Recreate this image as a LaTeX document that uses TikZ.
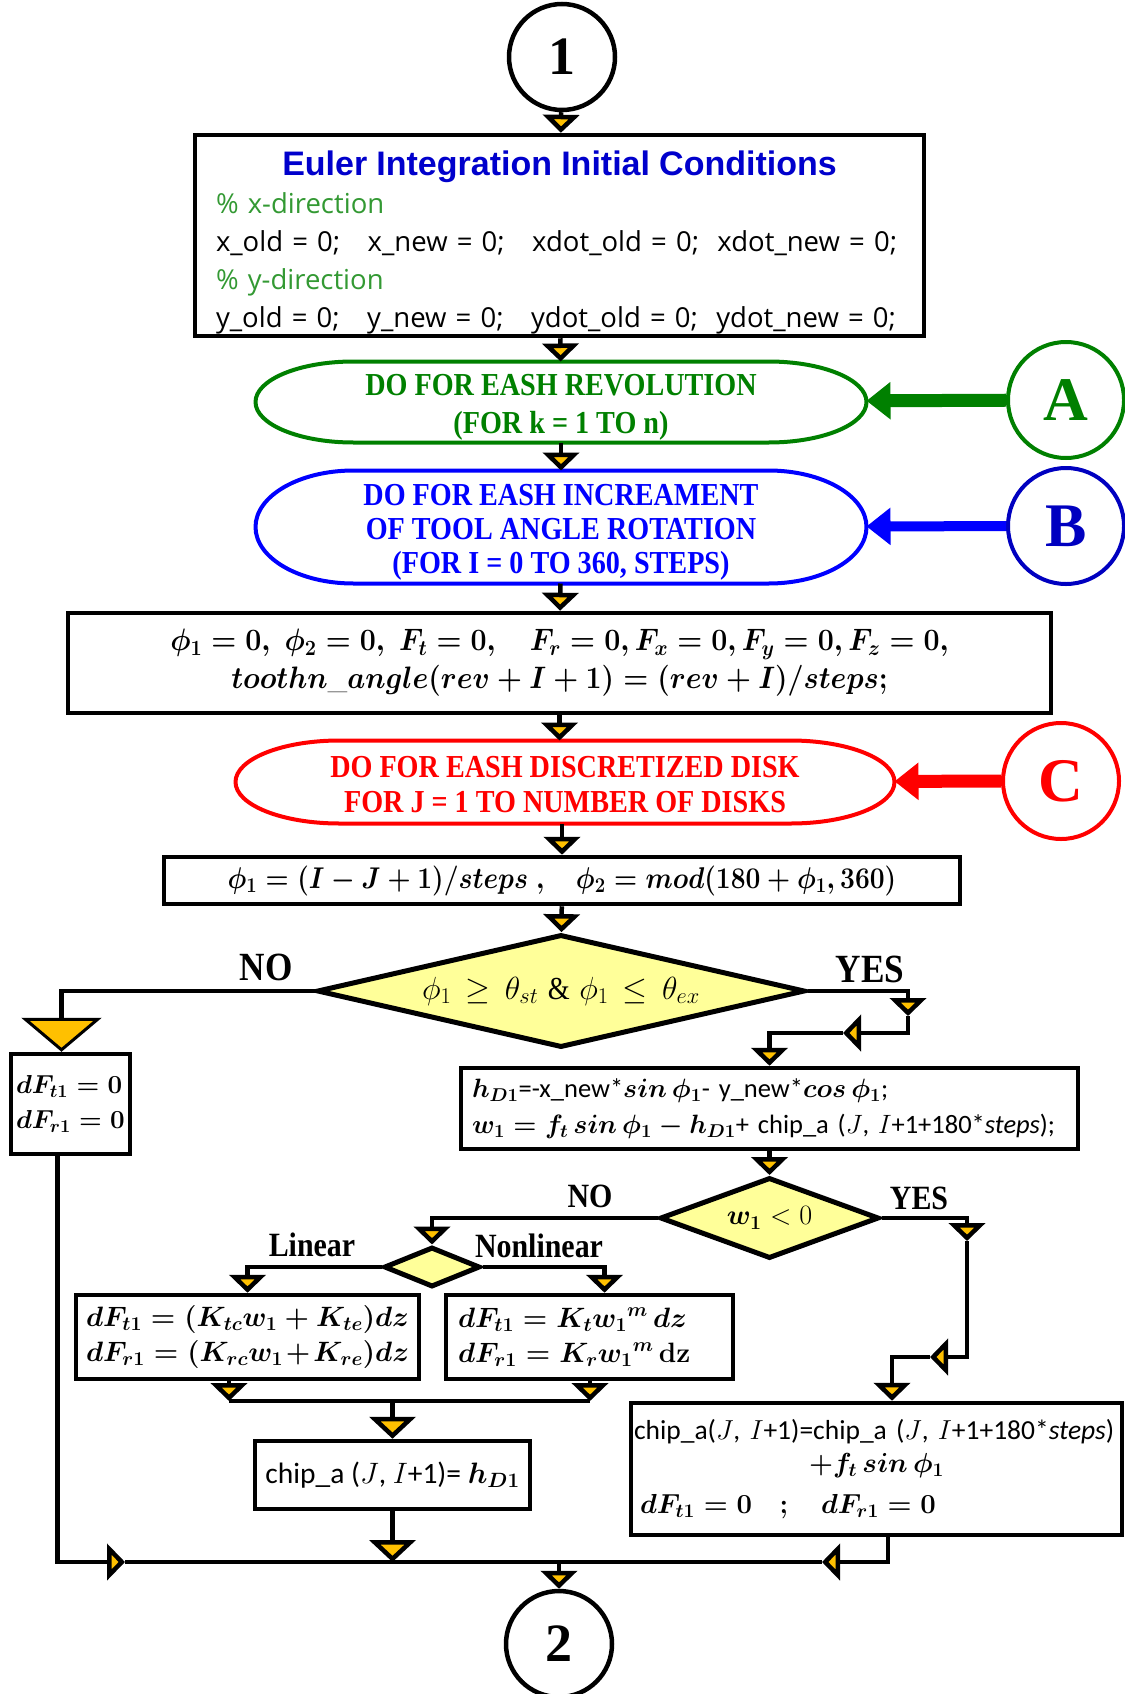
\RequirePackage{fix-cm}
\documentclass[tikz,border=0pt]{standalone}
\usepackage{fontspec}
\usepackage{amsmath}
\usepackage{graphicx}
\usetikzlibrary{shapes.geometric, arrows.meta, positioning}

\newfontfamily\titlefont{Liberation Sans}
\newfontfamily\codefont{Open Sans}
\newfontfamily\loopfont[FakeStretch=0.88]{Liberation Serif}
\newfontfamily\markfont{Liberation Serif}
\newfontfamily\plainfont{Carlito}

\definecolor{tipyellow}{HTML}{FFC000}
\definecolor{diayellow}{HTML}{FFFF99}
\definecolor{loopgreen}{HTML}{008000}
\definecolor{commentgreen}{HTML}{339933}
\definecolor{titleblue}{HTML}{0000CC}
\definecolor{loopblue}{HTML}{0000FF}
\definecolor{markblue}{HTML}{0000C0}
\definecolor{loopred}{HTML}{FF0000}

\newcommand{\bmath}[1]{{\boldmath$#1$}}
\newcommand{\termoutline}[4]{\draw [#2, line width=4pt, line join=round] ([xshift=#3]#1.north west) -- ([xshift=-#3]#1.north east) arc[start angle=90, end angle=-90, x radius=#3, y radius=#4] -- ([xshift=#3]#1.south west) arc[start angle=270, end angle=90, x radius=#3, y radius=#4] -- cycle;}

\begin{document}
\begin{tikzpicture}[x=1pt, y=-1pt, line width=4.5pt]
        \tikzstyle{process} = [rectangle, draw, line width=4.5pt, inner sep=0pt, fill=white]
        \tikzstyle{loopbox} = [rectangle, inner sep=0pt, outer sep=0pt, align=center, font=\fontsize{32}{38}\selectfont\loopfont\bfseries]
        \tikzstyle{decision} = [diamond, draw, line width=5pt, fill=diayellow, inner sep=0pt]
        \tikzstyle{onpage} = [circle, draw, line width=4.5pt, inner sep=0pt, minimum size=106pt, font=\fontsize{54}{54}\selectfont\markfont\bfseries]
        \tikzstyle{offpage} = [circle, draw, line width=4pt, inner sep=0pt, minimum size=116pt, font=\fontsize{62}{62}\selectfont\markfont\bfseries]
        \tikzstyle{answer} = [inner sep=0pt, font=\fontsize{34}{34}\selectfont\loopfont\bfseries]
        \tikzstyle{arr} = [-{Triangle[width=36pt,length=18pt,fill=tipyellow]}]
        \tikzstyle{bigarr} = [-{Triangle[width=46pt,length=22pt,fill=tipyellow]}]
        \tikzstyle{hugearr} = [-{Triangle[width=80pt,length=34pt,fill=tipyellow,line width=3pt]}]
        \tikzstyle{sidearr} = [line width=13pt, -{Triangle[width=36pt,length=24pt]}]

        \useasboundingbox (0,0) rectangle (1124,1694);

        \node (start) [onpage] at (562,57) {1};

        \node (init) [process, minimum width=729pt, minimum height=201pt, text width=687pt, align=left, font=\fontsize{27.5}{38}\selectfont\codefont] at (559.5,235.5) {
            {\centering\titlefont\bfseries\fontsize{34}{38}\selectfont\color{titleblue}\rule{0pt}{38pt}Euler Integration Initial Conditions\par}
            {\color{commentgreen}\% x-direction}\\
            x\_old = 0;~~~x\_new = 0;~~~xdot\_old = 0;~~xdot\_new = 0;\\
            {\color{commentgreen}\% y-direction}\\
            y\_old = 0;~~~y\_new = 0;~~~ydot\_old = 0;~~ydot\_new = 0;
        };

        \node (revol) [loopbox, text=loopgreen, minimum width=611pt, minimum height=81pt] at (561,402) {
            \rule{0pt}{32pt}DO FOR EASH REVOLUTION\\
            (FOR k = 1 TO n)
        };
        \termoutline{revol}{loopgreen}{98pt}{40.5pt}
        \node (incr) [loopbox, text=loopblue, minimum width=611pt, minimum height=113pt, font=\fontsize{32}{34}\selectfont\loopfont\bfseries] at (561,527) {
            \rule{0pt}{32pt}DO FOR EASH INCREAMENT\\
            OF TOOL ANGLE ROTATION\\
            (FOR I = 0 TO 360, STEPS)
        };
        \termoutline{incr}{loopblue}{98pt}{56.5pt}

        \node (reset) [process, minimum width=983pt, minimum height=100pt, align=center, font=\fontsize{31}{38}\selectfont] at (559.5,663) {
            \scalebox{0.92}[1]{\bmath{\phi_1 = 0,\ \phi_2 = 0,\ F_t = 0,\quad F_r = 0, F_x = 0, F_y = 0, F_z = 0,}}\\
            \scalebox{0.92}[1]{\bmath{toothn\_angle(rev + I + 1) = (rev + I)/steps;}}
        };

        \node (disk) [loopbox, text=loopred, minimum width=659pt, minimum height=83pt, font=\fontsize{32}{35}\selectfont\loopfont\bfseries] at (565,782) {
            \rule{0pt}{26pt}DO FOR EASH DISCRETIZED DISK\\
            FOR J = 1 TO NUMBER OF DISKS
        };
        \termoutline{disk}{loopred}{104pt}{41.5pt}

        \node (markA) [offpage, draw=loopgreen, text=loopgreen] at (1066,400) {A};
        \node (markB) [offpage, draw=markblue, text=markblue] at (1066,526) {B};
        \node (markC) [offpage, draw=loopred, text=loopred] at (1061,781) {C};

        \node (angles) [process, minimum width=796pt, minimum height=47pt, font=\fontsize{30}{30}\selectfont] at (562,880.5) {
            \scalebox{0.88}[1]{\bmath{\phi_1 = (I - J + 1)/steps\ ,\quad \phi_2 = mod(180 + \phi_1, 360)}}
        };

        \node (window) [decision, minimum width=488pt, minimum height=113pt, aspect=4.3, font=\fontsize{32}{32}\selectfont] at (561,991) {
            $\phi_{1}\,\geq\,\theta_{st}$\ {\loopfont\&}\ $\phi_{1}\,\leq\,\theta_{ex}$
        };
        \node (noA) [answer, font=\fontsize{40}{40}\selectfont\loopfont\bfseries] at (266,967) {NO};
        \node (yesA) [answer, font=\fontsize{40}{40}\selectfont\loopfont\bfseries] at (870,969) {YES};

        \node (zeroF) [process, minimum width=119pt, minimum height=100pt, align=left, font=\fontsize{26}{35}\selectfont] at (70.5,1104) {
            \bmath{dF_{t1} = 0}\\
            \bmath{dF_{r1} = 0}
        };

        \node (chipth) [process, minimum width=617pt, minimum height=81pt, text width=595pt, align=left, font=\fontsize{26.5}{36}\selectfont\plainfont] at (769.5,1108.5) {
            \bmath{h_{D1}}=-x\_new*\bmath{sin\,\phi_1}- y\_new*\bmath{cos\,\phi_1};\\
            \bmath{w_1 = f_t\,sin\,\phi_1 - h_{D1}}+ chip\_a ($J$, $I$+1+180*\textit{steps});
        };

        \node (neg) [decision, minimum width=219pt, minimum height=81pt, aspect=2.7, font=\fontsize{28}{28}\selectfont] at (769.5,1218) {\bmath{w_1} $< 0$};
        \node (noB) [answer] at (590,1196) {NO};
        \node (yesB) [answer] at (919,1198) {YES};

        \node (model) [decision, minimum width=96pt, minimum height=40pt, aspect=2.4] at (432,1267) {};
        \node (linL) [answer] at (312,1245) {Linear};
        \node (nonL) [answer] at (539,1246) {Nonlinear};

        \node (linF) [process, minimum width=343pt, minimum height=84pt, text width=323pt, align=left, font=\fontsize{28}{35}\selectfont] at (247.5,1337) {
            \bmath{dF_{t1} = (K_{tc}w_1 + K_{te})dz}\\
            \bmath{dF_{r1} = (K_{rc}w_1 + K_{re})dz}
        };
        \node (nonF) [process, minimum width=287pt, minimum height=84pt, text width=263pt, align=left, font=\fontsize{28}{35}\selectfont] at (589.5,1337) {
            \bmath{dF_{t1} = K_t {w_1}^m\,dz}\\
            \bmath{dF_{r1} = K_r {w_1}^m\,\mathbf{dz}}
        };

        \node (store) [process, minimum width=275pt, minimum height=68pt, font=\fontsize{29.5}{32}\selectfont\plainfont] at (392.5,1475) {
            chip\_a ($J$, $I$+1)= \bmath{h_{D1}}
        };

        \node (update) [process, minimum width=491pt, minimum height=132pt, text width=485pt, align=left, font=\fontsize{27.5}{33}\selectfont\plainfont] at (876.5,1469) {
            chip\_a($J$, $I$+1)=chip\_a ($J$, $I$+1+180*\textit{steps})\par
            {\centering\bmath{+f_t\,sin\,\phi_1}\par}
            \vspace{8pt}
            \hspace*{6pt}\bmath{dF_{t1} = 0\quad;\quad dF_{r1} = 0}
        };

        \node (finish) [onpage] at (559,1644) {2};

        \coordinate (yesTurn) at (908,1016);
        \coordinate (yesBack) at (843,1033);
        \coordinate (negTurn) at (967,1241);
        \coordinate (negBack) at (930,1357);
        \coordinate (joinL) at (229,1401);
        \coordinate (joinR) at (590,1401);
        \coordinate (mergeL) at (125,1562);
        \coordinate (mergeR) at (822,1562);

        \draw [arr] (start) -- (init);
        \draw [arr] (init) -- (revol);
        \draw [arr] (revol) -- (incr);
        \draw [arr] (incr) -- (reset);
        \draw [arr] (reset.south) -- (reset.south |- disk.north);
        \draw [arr] (disk.south -| angles) -- (angles);
        \draw [arr] (angles) -- (window);

        \draw [sidearr, loopgreen] (markA) -- (revol);
        \draw [sidearr, loopblue, line width=10pt] (markB) -- (incr);
        \draw [sidearr, loopred] (markC) -- (disk);

        \draw [hugearr] (window.west) -| ([xshift=-9pt]zeroF.north);
        \draw [arr] (window.east) -| (yesTurn);
        \draw [arr] (yesTurn) |- (yesBack);
        \draw [arr] (yesBack) -| (chipth.north);

        \draw [arr] (chipth) -- (neg);
        \draw [arr] (neg.west) -| (model.north);
        \draw [arr] (neg.east) -| (negTurn);
        \draw [arr] (negTurn) |- (negBack);
        \draw [arr] (negBack) -| ([xshift=15.5pt]update.north);

        \draw [arr] (model.west) -| (linF.north);
        \draw [arr] (model.east) -| ([xshift=15pt]nonF.north);
        \draw [arr] (joinL |- linF.south) -- (joinL);
        \draw [arr] (joinR |- nonF.south) -- (joinR);
        \draw (joinL) -- (joinR);
        \draw [bigarr] (store |- joinL) -- (store);

        \draw [arr] ([xshift=-13pt]zeroF.south) |- (mergeL);
        \draw [arr] ([xshift=11.5pt]update.south) |- (mergeR);
        \draw (mergeL) -- (mergeR);
        \draw [bigarr] (store) -- (store |- mergeL);
        \draw [arr] (finish |- mergeL) -- (finish);
    \end{tikzpicture}
\end{document}
